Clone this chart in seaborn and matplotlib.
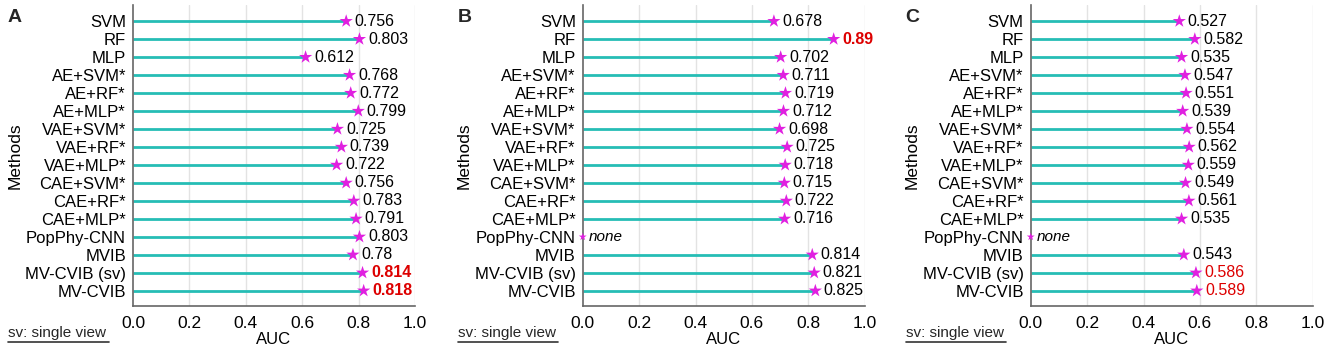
import numpy as np
import pandas as pd
import matplotlib
matplotlib.use("Agg")
import matplotlib.pyplot as plt
import seaborn as sns

# 手法名と各パネルのAUC (None は値なし)
methods = ["SVM", "RF", "MLP", "AE+SVM*", "AE+RF*", "AE+MLP*", "VAE+SVM*", "VAE+RF*",
           "VAE+MLP*", "CAE+SVM*", "CAE+RF*", "CAE+MLP*", "PopPhy-CNN", "MVIB",
           "MV-CVIB (sv)", "MV-CVIB"]
auc_a = [0.756, 0.803, 0.612, 0.768, 0.772, 0.799, 0.725, 0.739, 0.722, 0.756, 0.783,
         0.791, 0.803, 0.78, 0.814, 0.818]
auc_b = [0.678, 0.89, 0.702, 0.711, 0.719, 0.712, 0.698, 0.725, 0.718, 0.715, 0.722,
         0.716, None, 0.814, 0.821, 0.825]
auc_c = [0.527, 0.582, 0.535, 0.547, 0.551, 0.539, 0.554, 0.562, 0.559, 0.549, 0.561,
         0.535, None, 0.543, 0.586, 0.589]
labels_a = ["0.756", "0.803", "0.612", "0.768", "0.772", "0.799", "0.725", "0.739", "0.722",
            "0.756", "0.783", "0.791", "0.803", "0.78", "0.814", "0.818"]
labels_b = ["0.678", "0.89", "0.702", "0.711", "0.719", "0.712", "0.698", "0.725", "0.718",
            "0.715", "0.722", "0.716", "none", "0.814", "0.821", "0.825"]
labels_c = ["0.527", "0.582", "0.535", "0.547", "0.551", "0.539", "0.554", "0.562", "0.559",
            "0.549", "0.561", "0.535", "none", "0.543", "0.586", "0.589"]
# 強調表示 (赤) とその太さ
highlight_a = ["MV-CVIB (sv)", "MV-CVIB"]
highlight_b = ["RF"]
highlight_c = ["MV-CVIB (sv)", "MV-CVIB"]
panels = [("A", auc_a, labels_a, highlight_a, "bold"),
          ("B", auc_b, labels_b, highlight_b, "bold"),
          ("C", auc_c, labels_c, highlight_c, "normal")]
x_ticks = [0.0, 0.2, 0.4, 0.6, 0.8, 1.0]

sns.set_style("white")
plt.rcParams['font.family'] = ['Liberation Sans', 'DejaVu Sans']

STEM = "#26bdb5"
STAR = "#e020e0"

fig = plt.figure(figsize=(13.25, 3.45), dpi=100)
lefts = [0.1004, 0.4398, 0.7779]

for (letter, vals, labs, hl, hl_weight), left in zip(panels, lefts):
    ax = fig.add_axes([left, 0.113, 0.2128, 0.8725])
    df = pd.DataFrame({"method": methods, "auc": vals, "label": labs})
    df["auc"] = pd.to_numeric(df["auc"])
    df["x"] = df["auc"].fillna(0.0)
    df["has"] = df["auc"].notna()
    df["pos"] = np.arange(len(methods))

    for xv in x_ticks[1:]:
        ax.axvline(xv, color="#e3e3e3", lw=1, zorder=0)

    ok = df[df["has"]]
    ax.hlines(ok["pos"], 0, ok["x"], color=STEM, lw=2.0, zorder=2)

    sns.scatterplot(data=ok, x="x", y="pos", marker="*", s=100,
                    color=STAR, edgecolor="none", ax=ax, zorder=3, legend=False)
    none_df = df[~df["has"]]
    if len(none_df):
        ax.scatter(none_df["x"], none_df["pos"], marker="*", s=35, color=STAR,
                   edgecolors="none", zorder=3, clip_on=False)

    for _, row in df.iterrows():
        red = row["method"] in hl
        if row["has"]:
            ax.text(row["x"] + 0.03, row["pos"], row["label"], va="center", ha="left",
                    fontsize=11.5, color="#dd0000" if red else "black",
                    fontweight=hl_weight if red else "normal")
        else:
            ax.text(row["x"] + 0.022, row["pos"], row["label"], va="center", ha="left",
                    fontsize=11, style="italic", color="black")

    ax.set_xlim(0, 1.0)
    ax.set_ylim(len(methods) - 1 + 0.85, -0.9)
    ax.set_yticks(df["pos"])
    ax.set_yticklabels(methods)
    ax.set_xticks(x_ticks)
    ax.set_xticklabels([f"{t:.1f}" for t in x_ticks])
    ax.tick_params(axis="y", labelsize=12, length=4, width=1, color="#555555", pad=1,
                   labelcolor="black")
    ax.tick_params(axis="x", labelsize=12.5, length=4, width=1, color="#555555", pad=3,
                   direction="out", labelcolor="black")
    ax.set_xlabel("AUC", fontsize=12, labelpad=1, color="black")
    ax.set_ylabel("Methods", fontsize=12.5, labelpad=2, color="black")
    for s in ["top", "right"]:
        ax.spines[s].set_visible(False)
    for s in ["left", "bottom"]:
        ax.spines[s].set_color("#666666")
        ax.spines[s].set_linewidth(1.2)

    fx = left - 0.0945
    fig.text(fx, 0.975, letter, fontsize=14, fontweight="bold", va="top", ha="left")
    fig.text(fx + 0.0005, 0.022, "sv: single view", fontsize=11, va="baseline", ha="left")
    fig.add_artist(plt.Line2D([fx + 0.0005, fx + 0.076], [0.009, 0.009],
                              color="#333333", lw=1.2, transform=fig.transFigure))

fig.savefig("out.png", dpi=100)
